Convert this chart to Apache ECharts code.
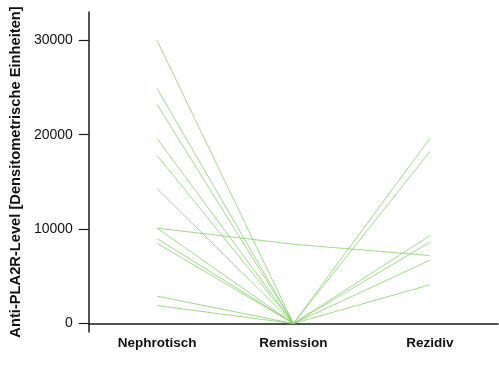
<!DOCTYPE html>
<html>
<head>
<meta charset="utf-8">
<script src="https://cdn.jsdelivr.net/npm/echarts@6/dist/echarts.min.js"></script>
<style>html,body{margin:0;padding:0;background:#fff}#c{width:499px;height:367px}</style>
</head>
<body>
<div id="c"></div>
<script>
var categories = ['Nephrotisch', 'Remission', 'Rezidiv'];
var yTicks = [0, 10000, 20000, 30000];
var nephrotisch = [30000, 24900, 23200, 19600, 17800, 14300, 10100, 10100, 9000, 8500, 2900, 1900];
var remission   = [0, 0, 0, 0, 0, 0, 8400, 0, 0, 0, 0, 0];
var rezidiv     = [19600, 18200, 9300, 8600, 6700, 4100, 7200, null, null, null, null, null];

var series = nephrotisch.map(function (v, i) {
  return {
    type: 'line',
    data: [v, remission[i], rezidiv[i]],
    symbol: 'none',
    connectNulls: false,
    lineStyle: { color: '#86cf6c', width: 0.8 },
    silent: true
  };
});

var chart = echarts.init(document.getElementById('c'));
chart.setOption({
  animation: false,
  grid: { left: 88, right: 1, top: 12, bottom: 35 },
  xAxis: {
    type: 'category',
    data: categories,
    boundaryGap: true,
    axisLine: { onZero: true, lineStyle: { color: '#1a1a1a', width: 1.5 } },
    axisTick: { alignWithLabel: true, length: 8, lineStyle: { color: '#1a1a1a', width: 1.5 } },
    axisLabel: { color: '#111', fontFamily: 'Liberation Sans', fontWeight: 'bold', fontSize: 13.5, margin: 4 }
  },
  yAxis: {
    type: 'value',
    min: -900,
    max: 33000,
    name: 'Anti-PLA2R-Level [Densitometrische Einheiten]',
    nameLocation: 'middle',
    nameGap: 61,
    nameTextStyle: { color: '#111', fontFamily: 'Liberation Sans', fontWeight: 'bold', fontSize: 14.7 },
    axisLine: { show: true, lineStyle: { color: '#1a1a1a', width: 1.5 } },
    axisTick: { show: true, length: 10, customValues: yTicks, lineStyle: { color: '#1a1a1a', width: 1.2 } },
    axisLabel: {
      customValues: yTicks, color: '#111', fontFamily: 'Liberation Sans', fontSize: 14, margin: 16,
      formatter: function (v) { return String(v); }
    },
    splitLine: { show: false }
  },
  series: series
});
</script>
</body>
</html>
